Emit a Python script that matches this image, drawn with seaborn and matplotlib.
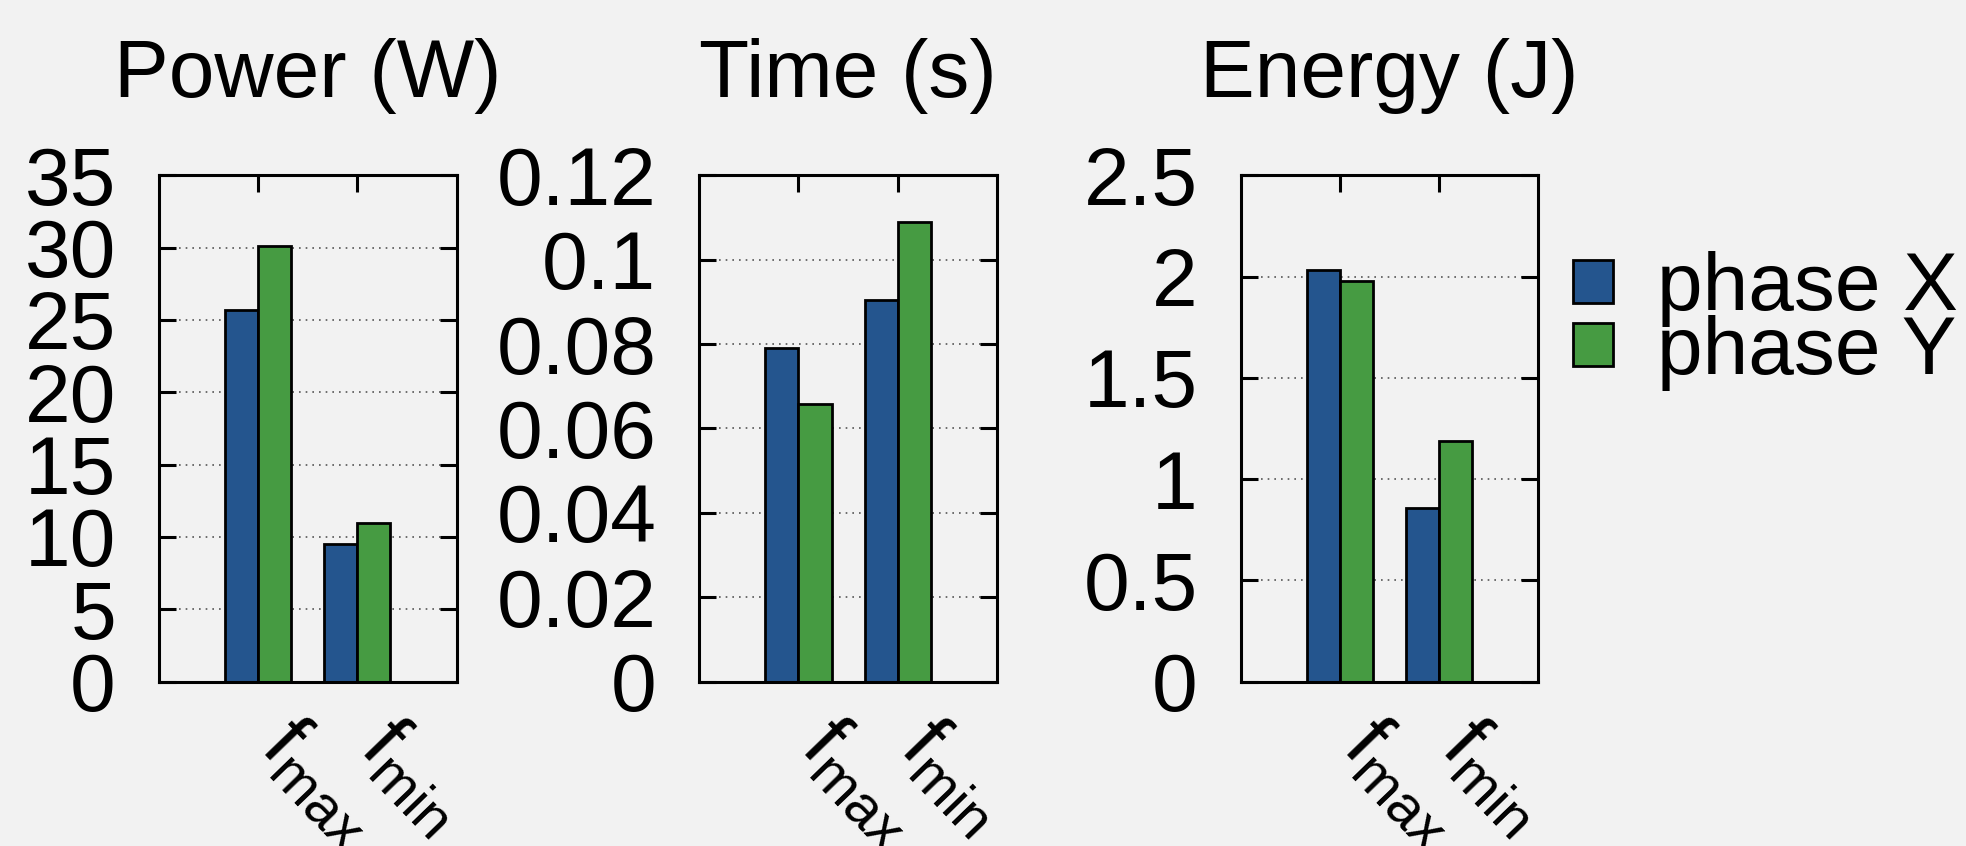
import numpy as np
import pandas as pd
import matplotlib
matplotlib.use("Agg")
import matplotlib.pyplot as plt
import matplotlib.transforms as mtransforms
import seaborn as sns

# values
freqs = ["fmax", "fmin"]
freq_labels = [r"$f_{max}$", r"$f_{min}$"]
phases = ["phase X", "phase Y"]

power_x = [25.7, 9.5]
power_y = [30.1, 10.95]
time_x = [0.079, 0.0905]
time_y = [0.0658, 0.109]
energy_x = [2.03, 0.859]
energy_y = [1.98, 1.19]

titles = ["Power (W)", "Time (s)", "Energy (J)"]
y_max = [35, 0.12, 2.5]
y_step = [5, 0.02, 0.5]

blue = "#24558e"
green = "#469b42"
bg = "#f2f2f2"

sns.set_theme(style="ticks", rc={"figure.facecolor": bg, "axes.facecolor": bg,
                                 "savefig.facecolor": bg})
plt.rcParams["font.family"] = ["Liberation Sans", "DejaVu Sans"]
plt.rcParams["mathtext.default"] = "regular"
plt.rcParams["text.color"] = "black"
plt.rcParams["xtick.color"] = "black"
plt.rcParams["ytick.color"] = "black"


def long_frame(xs, ys):
    return pd.DataFrame({
        "freq": freqs * 2,
        "phase": [phases[0]] * 2 + [phases[1]] * 2,
        "value": list(xs) + list(ys),
    })


frames = [long_frame(power_x, power_y), long_frame(time_x, time_y),
          long_frame(energy_x, energy_y)]

fig = plt.figure(figsize=(19.66, 8.46), dpi=100)
lefts = [0.0809, 0.3557, 0.6311]
fs = 59
# nudge the rotated x labels a bit to the left
shift = mtransforms.ScaledTranslation(-16 / 100, 0, fig.dpi_scale_trans)

axes = []
for i, df in enumerate(frames):
    ax = fig.add_axes([lefts[i], 0.1942, 0.1513, 0.5987])
    sns.barplot(data=df, x="freq", y="value", hue="phase", palette=[blue, green],
                width=2 / 3, saturation=1, edgecolor="black", linewidth=2,
                errorbar=None, ax=ax, legend=(i == 2))
    ax.set_xlim(-1, 2)
    ax.set_ylim(0, y_max[i])
    ticks = np.arange(0, y_max[i] + y_step[i] / 2, y_step[i])
    ax.set_yticks(ticks)
    ax.set_yticklabels([f"{t:g}" for t in ticks])
    ax.set_xticks([0, 1])
    ax.set_xticklabels(freq_labels, rotation=-46, ha="left", va="baseline",
                       rotation_mode="anchor")
    for lab in ax.get_xticklabels():
        lab.set_transform(lab.get_transform() + shift)
    ax.set_xlabel("")
    ax.set_ylabel("")
    ax.set_title(titles[i], fontsize=fs, pad=56)
    ax.tick_params(direction="in", length=12.5, width=2.2, top=True, right=True,
                   labelsize=fs)
    ax.tick_params(axis="y", pad=31)
    ax.tick_params(axis="x", pad=49)
    for s in ax.spines.values():
        s.set_linewidth(2.2)
        s.set_color("black")
    ax.set_axisbelow(True)
    ax.yaxis.grid(True, color="#555555", linestyle=(0, (1, 3)), linewidth=1.2)
    axes.append(ax)

handles, labels = axes[2].get_legend_handles_labels()
axes[2].get_legend().remove()
fig.legend(handles, labels, loc="upper left", bbox_to_anchor=(0.800, 0.703),
           frameon=False, fontsize=fs, handlelength=0.49, handleheight=0.43,
           handletextpad=0.54, labelspacing=-0.15, borderpad=0, borderaxespad=0)

fig.savefig("out.png", dpi=100)
